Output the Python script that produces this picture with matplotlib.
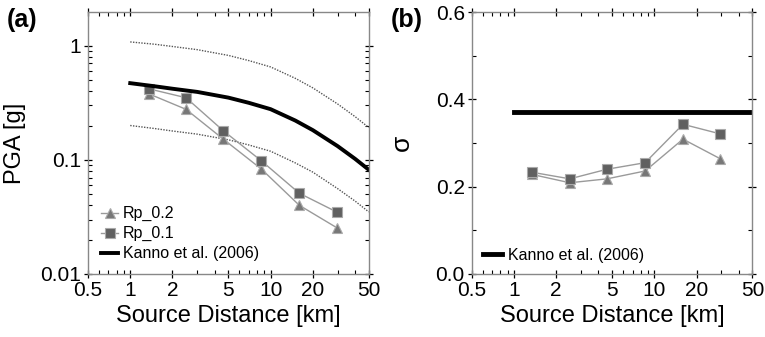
import matplotlib.pyplot as plt
from matplotlib.ticker import LogLocator, FixedLocator, NullFormatter, MultipleLocator

plt.rcParams['font.family'] = ['Liberation Sans', 'DejaVu Sans']

# source distance bins [km]
dist = [1.35, 2.5, 4.6, 8.6, 16, 29.5]

# PGA [g]
pga_rp02 = [0.38, 0.277, 0.152, 0.083, 0.040, 0.0255]
pga_rp01 = [0.42, 0.35, 0.18, 0.098, 0.051, 0.035]

# Kanno et al. (2006) median and +/- sigma curves
kanno_x = [1, 1.5, 2, 3, 5, 7, 10, 15, 20, 30, 40, 50]
kanno_med = [0.47, 0.441, 0.42, 0.394, 0.351, 0.316, 0.278, 0.221, 0.182, 0.132, 0.102, 0.082]
kanno_up = [1.08, 1.03, 0.985, 0.924, 0.823, 0.741, 0.652, 0.518, 0.427, 0.309, 0.239, 0.192]
kanno_lo = [0.20, 0.188, 0.179, 0.168, 0.150, 0.135, 0.119, 0.094, 0.078, 0.056, 0.0435, 0.035]

# sigma
sig_rp02 = [0.228, 0.209, 0.218, 0.236, 0.309, 0.264]
sig_rp01 = [0.233, 0.218, 0.240, 0.255, 0.343, 0.321]
kanno_sig_x = [1, 50]
kanno_sig = [0.371, 0.371]

xticks = [0.5, 1, 2, 5, 10, 20, 50]
xticklabels = ['0.5', '1', '2', '5', '10', '20', '50']

fig = plt.figure(figsize=(7.65, 3.37), dpi=100)
ax1 = fig.add_axes([0.115, 0.187, 0.367, 0.777])
ax2 = fig.add_axes([0.6166, 0.187, 0.367, 0.777])

line_c = '#9a9a9a'
tri_style = dict(color=line_c, lw=1, marker='^', ms=7, mfc='#777777', mec='#aaaaaa', mew=0.8)
sq_style = dict(color=line_c, lw=1, marker='s', ms=6.5, mfc='#606060', mec='#aaaaaa', mew=0.8)

# panel (a)
ax1.plot(kanno_x, kanno_up, color='#555555', lw=1, ls=(0, (1, 1)))
ax1.plot(kanno_x, kanno_lo, color='#555555', lw=1, ls=(0, (1, 1)))
ax1.plot(dist, pga_rp02, label='Rp_0.2', **tri_style)
ax1.plot(dist, pga_rp01, label='Rp_0.1', **sq_style)
ax1.plot(kanno_x, kanno_med, color='black', lw=2.8, label='Kanno et al. (2006)')
ax1.set_xscale('log')
ax1.set_yscale('log')
ax1.set_ylim(0.01, 1.97)
ax1.set_yticks([0.01, 0.1, 1])
ax1.set_yticklabels(['0.01', '0.1', '1'])
ax1.yaxis.set_minor_locator(LogLocator(base=10, subs=range(2, 10)))
ax1.yaxis.set_minor_formatter(NullFormatter())
ax1.set_ylabel('PGA [g]', fontsize=17)
ax1.yaxis.set_label_coords(-0.22, 0.5)
ax1.legend(loc='lower left', frameon=False, fontsize=11.5, handlelength=1.1,
           handletextpad=0.3, labelspacing=0.3, borderaxespad=0.4)
ax1.text(-0.29, 1.015, '(a)', transform=ax1.transAxes, fontsize=18,
         fontweight='bold', va='top', ha='left')

# panel (b)
ax2.plot(dist, sig_rp02, **tri_style)
ax2.plot(dist, sig_rp01, **sq_style)
ax2.plot(kanno_sig_x, kanno_sig, color='black', lw=3.5, label='Kanno et al. (2006)')
ax2.set_xscale('log')
ax2.set_ylim(0, 0.6)
ax2.set_yticks([0, 0.2, 0.4, 0.6])
ax2.set_yticklabels(['0.0', '0.2', '0.4', '0.6'])
ax2.yaxis.set_minor_locator(MultipleLocator(0.1))
ax2.set_ylabel('σ', fontsize=19)
ax2.yaxis.set_label_coords(-0.205, 0.5)
ax2.legend(loc='lower left', frameon=False, fontsize=11.5, handlelength=1.2,
           handletextpad=0.4, borderaxespad=0.3)
ax2.text(-0.29, 1.015, '(b)', transform=ax2.transAxes, fontsize=18,
         fontweight='bold', va='top', ha='left')

for ax in (ax1, ax2):
    ax.set_xlim(0.5, 50)
    ax.xaxis.set_major_locator(FixedLocator(xticks))
    ax.set_xticklabels(xticklabels)
    ax.xaxis.set_minor_locator(LogLocator(base=10, subs=range(2, 10)))
    ax.xaxis.set_minor_formatter(NullFormatter())
    ax.set_xlabel('Source Distance [km]', fontsize=17, labelpad=4)
    ax.tick_params(which='major', direction='inout', length=6, width=0.9,
                   labelsize=15, top=True, right=True, pad=2, colors='black')
    ax.tick_params(which='minor', direction='in', length=3, width=0.8,
                   top=True, right=True)
    for s in ax.spines.values():
        s.set_color('#888888')
        s.set_linewidth(1.0)

fig.savefig('out.png', dpi=100)
